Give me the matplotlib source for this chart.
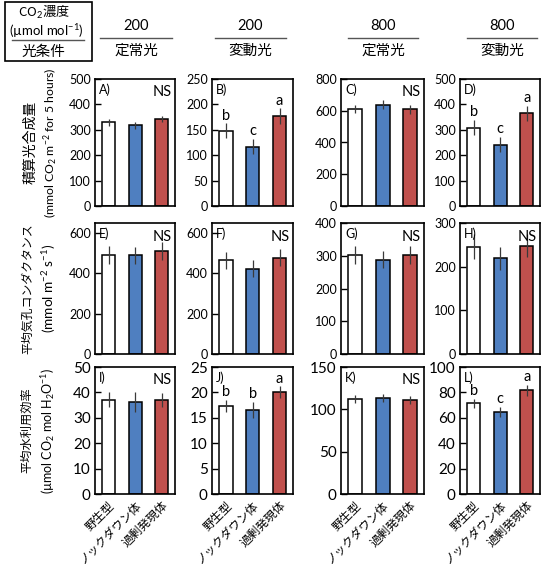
import numpy as np
import matplotlib
matplotlib.use('Agg')
import matplotlib.pyplot as plt
from matplotlib.patches import Rectangle
from matplotlib.lines import Line2D

plt.rcParams['font.family'] = ['Lato', 'Noto Sans CJK JP', 'DejaVu Sans']
plt.rcParams['mathtext.fontset'] = 'custom'
plt.rcParams['mathtext.rm'] = 'Lato'
plt.rcParams['mathtext.it'] = 'Lato'

# データ (野生型, ノックダウン体, 過剰発現体)
genotypes = ['野生型', 'ノックダウン体', '過剰発現体']
co2_levels = ['200', '200', '800', '800']
light_conds = ['定常光', '変動光', '定常光', '変動光']

# 積算光合成量
photo_mean = [[329, 317, 342], [148, 117, 177], [611, 638, 608], [309, 242, 365]]
photo_err = [[15, 13, 13], [15, 15, 15], [25, 30, 28], [30, 30, 29]]
photo_sig = [['', '', 'NS'], ['b', 'c', 'a'], ['', '', 'NS'], ['b', 'c', 'a']]
photo_ylim = [500, 250, 800, 500]
photo_step = [100, 50, 200, 100]

# 平均気孔コンダクタンス
gs_mean = [[490, 490, 510], [465, 422, 478], [302, 288, 302], [246, 219, 248]]
gs_err = [[45, 43, 45], [43, 42, 42], [27, 26, 28], [28, 26, 26]]
gs_sig = [['', '', 'NS'], ['', '', 'NS'], ['', '', 'NS'], ['', '', 'NS']]
gs_ylim = [650, 650, 400, 300]
gs_step = [200, 200, 100, 100]

# 平均水利用効率
wue_mean = [[37.2, 36.1, 37.0], [17.3, 16.5, 20.0], [112, 113.4, 111], [71.6, 64.7, 81.6]]
wue_err = [[2.8, 3.9, 2.6], [1.25, 1.6, 1.2], [4.5, 4.3, 4.5], [3.5, 3.7, 4.5]]
wue_sig = [['', '', 'NS'], ['b', 'b', 'a'], ['', '', 'NS'], ['b', 'c', 'a']]
wue_ylim = [50, 25, 150, 100]
wue_step = [10, 5, 50, 20]

row_title = ['積算光合成量', '平均気孔コンダクタンス', '平均水利用効率']
row_unit = ['(mmol CO$_2$ m$^{-2}$ for 5 hours)', '(mmol m$^{-2}$ s$^{-1}$)',
            '(µmol CO$_2$ mol H$_2$O$^{-1}$)']
panel_names = ['A)', 'B)', 'C)', 'D)', 'E)', 'F)', 'G)', 'H)', 'I)', 'J)', 'K)', 'L)']

bar_colors = ['white', '#4F7FC0', '#C0504D']
cjk = ['Noto Sans CJK JP', 'DejaVu Sans']

W, H = 560, 574
fig = plt.figure(figsize=(W / 100, H / 100), dpi=100)

# ピクセル座標 -> 図の座標
def fx(x):
    return x / W

def fy(y):
    return 1 - y / H

cols_x = [(95, 175), (212, 293), (341, 424), (460, 540)]
rows_y = [(79, 206), (223, 354), (367, 494)]

rows = [
    (photo_mean, photo_err, photo_sig, photo_ylim, photo_step, 9),
    (gs_mean, gs_err, gs_sig, gs_ylim, gs_step, 9),
    (wue_mean, wue_err, wue_sig, wue_ylim, wue_step, 11),
]
title_size = [10, 8.6, 8.8]
unit_size = [8.8, 9.8, 9]
title_x = [30, 28, 27]
unit_x = [50, 49, 48]

for r, (means, errs, sigs, ylims, steps, tsize) in enumerate(rows):
    y0, y1 = rows_y[r]
    for c in range(4):
        x0, x1 = cols_x[c]
        ax = fig.add_axes([fx(x0), fy(y1), (x1 - x0) / W, (y1 - y0) / H])
        xs = np.arange(3)
        ax.bar(xs, means[c], width=0.5, color=bar_colors, edgecolor='black',
               linewidth=1.1, zorder=2)
        ax.errorbar(xs, means[c], yerr=errs[c], fmt='none', ecolor='#3a3a3a',
                    elinewidth=0.9, capsize=0, zorder=3)
        ax.set_xlim(-0.52, 2.5)
        ax.set_ylim(0, ylims[c])
        ax.set_yticks(np.arange(0, ylims[c] + 0.01, steps[c]))
        ax.tick_params(axis='y', direction='in', length=4, width=1,
                       labelsize=tsize, pad=3, colors='black')
        ax.tick_params(axis='x', length=0)
        for sp in ax.spines.values():
            sp.set_linewidth(1.2)
        if r == 2:
            ax.set_xticks(xs)
            ax.set_xticklabels(genotypes, rotation=45, ha='right',
                               rotation_mode='anchor', fontsize=8.5)
            ax.tick_params(axis='x', pad=4)
        else:
            ax.set_xticks([])
        ax.text(0.05, 0.965, panel_names[r * 4 + c], transform=ax.transAxes,
                ha='left', va='top', fontsize=9)
        for i, s in enumerate(sigs[c]):
            if s == 'NS':
                ax.text(0.96, 0.95, s, transform=ax.transAxes, ha='right',
                        va='top', fontsize=10.5)
            elif s:
                ax.text(i, means[c][i] + errs[c][i] + ylims[c] * 0.005, s,
                        ha='center', va='bottom', fontsize=10.5)

    yc = fy((y0 + y1) / 2)
    fig.text(fx(title_x[r]), yc, row_title[r], rotation=90, ha='center',
             va='center', fontsize=title_size[r])
    fig.text(fx(unit_x[r]), yc, row_unit[r], rotation=90, ha='center',
             va='center', fontsize=unit_size[r])

# 列の見出し
head_x = [(100, 172), (215, 286), (348, 418), (467, 537)]
for c in range(4):
    a, b = head_x[c]
    xm = fx((a + b) / 2)
    fig.text(xm, fy(26), co2_levels[c], ha='center', va='center', fontsize=10.5)
    fig.add_artist(Line2D([fx(a), fx(b)], [fy(38), fy(38)], color='#555555',
                          linewidth=1.0))
    fig.text(xm, fy(51), light_conds[c], ha='center', va='center', fontsize=10.5)

# 左上の枠
fig.add_artist(Rectangle((fx(5), fy(61)), 87 / W, 59 / H, fill=False,
                         edgecolor='black', linewidth=1.2))
fig.text(fx(44), fy(12.5), 'CO$_2$濃度', ha='center', va='center', fontsize=9.5,
         family=cjk)
fig.text(fx(46), fy(31), '(µmol mol$^{-1}$)', ha='center', va='center', fontsize=9.5)
fig.add_artist(Line2D([fx(12), fx(84)], [fy(40), fy(40)], color='#555555',
                      linewidth=1.0))
fig.text(fx(43), fy(52), '光条件', ha='center', va='center', fontsize=10.5)

fig.savefig('out.png', dpi=100)
